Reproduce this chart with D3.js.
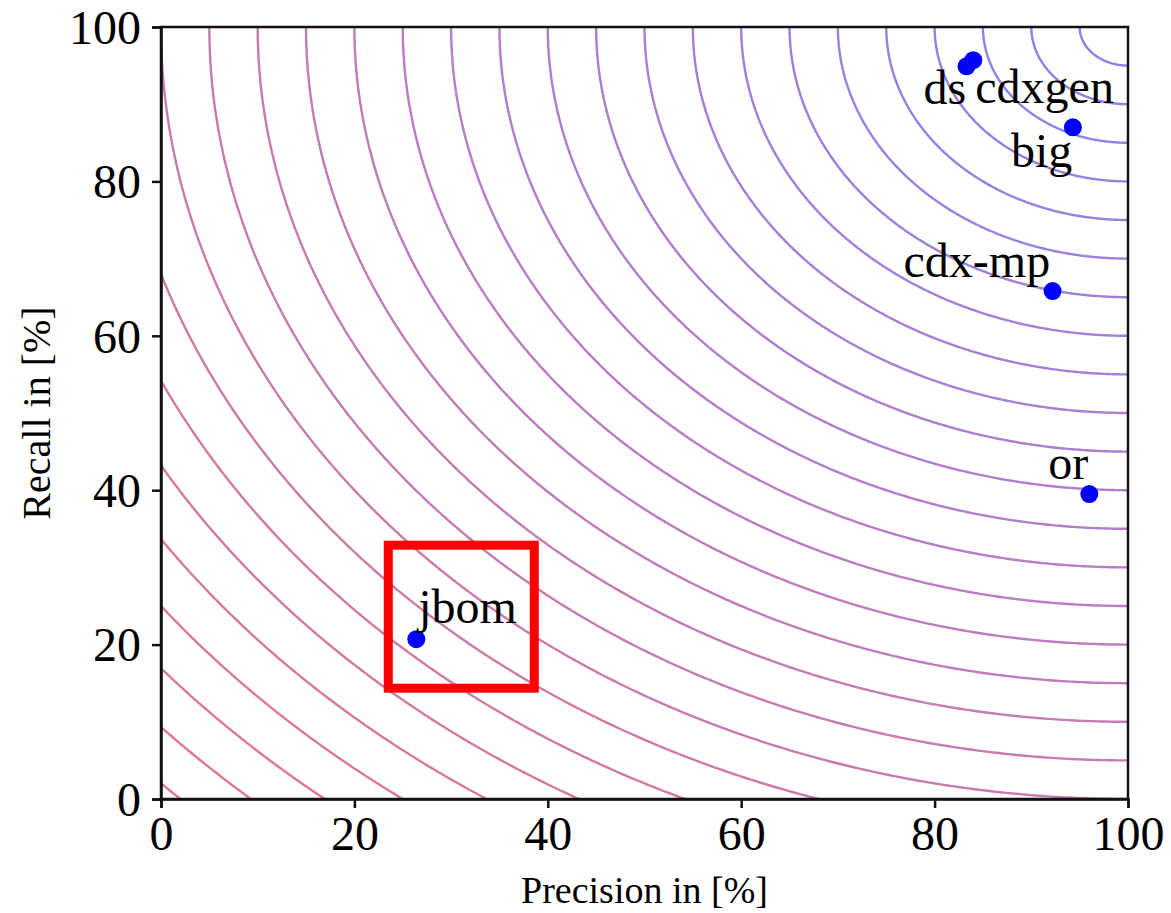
<!DOCTYPE html>
<html>
<head>
<meta charset="utf-8">
<script src="https://cdn.jsdelivr.net/npm/d3@7"></script>
<style>
  html, body { margin: 0; padding: 0; background: #fff; }
  svg { display: block; }
  text { font-family: "Liberation Serif", "Times New Roman", serif; fill: #000; }
</style>
</head>
<body>
<svg id="chart" width="1171" height="913"></svg>
<script>
// ---- data ----
const tools = ["ds", "cdxgen", "big", "cdx-mp", "or", "jbom"];
const precision = [83.3, 84.0, 94.3, 92.2, 96.0, 26.4];
const recall = [94.9, 95.7, 87.0, 65.8, 39.5, 20.7];
const xTicks = [0, 20, 40, 60, 80, 100];
const yTicks = [0, 20, 40, 60, 80, 100];
const contourLevels = [5, 10, 15, 20, 25, 30, 35, 40, 45, 50, 55, 60, 65, 70,
  75, 80, 85, 90, 95, 100, 105, 110, 115, 120, 125, 130, 135, 140];
const highlightedTool = "jbom";

(function () {
// ---- layout ----
const svg = d3.select("#chart");
const pL = 161, pR = 1128, pT = 27, pB = 799;
const x = d3.scaleLinear().domain([0, 100]).range([pL, pR]);
const y = d3.scaleLinear().domain([0, 100]).range([pB, pT]);

const labelOffset = {
  "ds": [-43, 38], "cdxgen": [2, 43], "big": [-62, 40],
  "cdx-mp": [-149, -14], "or": [-41, -15], "jbom": [2, -16]
};

svg.append("defs").append("clipPath").attr("id", "plotclip")
  .append("rect").attr("x", pL).attr("y", pT)
  .attr("width", pR - pL).attr("height", pB - pT);

// contour circles centred on (100,100)
const color = d3.scaleLinear()
  .domain([5, 70, 140])
  .range(["#8a82ea", "#b87cc8", "#e4788a"])
  .interpolate(d3.interpolateRgb);

const line = d3.line().x(d => x(d[0])).y(d => y(d[1]));
const cg = svg.append("g").attr("clip-path", "url(#plotclip)");
contourLevels.forEach(r => {
  const pts = d3.range(0, 90.25, 0.25).map(a => {
    const t = (180 + a) * Math.PI / 180;
    return [100 + r * Math.cos(t), 100 + r * Math.sin(t)];
  });
  cg.append("path").attr("d", line(pts))
    .attr("fill", "none").attr("stroke", color(r))
    .attr("stroke-width", 2.4);
});

// frame
svg.append("rect").attr("x", pL).attr("y", pT)
  .attr("width", pR - pL).attr("height", pB - pT)
  .attr("fill", "none").attr("stroke", "#111").attr("stroke-width", 2.5);

// axes
const xAxis = d3.axisBottom(x).tickValues(xTicks).tickSize(9).tickPadding(8);
const yAxis = d3.axisLeft(y).tickValues(yTicks).tickSize(9).tickPadding(8);
const gx = svg.append("g").attr("transform", `translate(0,${pB})`).call(xAxis);
const gy = svg.append("g").attr("transform", `translate(${pL},0)`).call(yAxis);
[gx, gy].forEach(g => {
  g.select(".domain").attr("stroke", "#111").attr("stroke-width", 2.5);
  g.selectAll(".tick line").attr("stroke", "#111").attr("stroke-width", 2.5);
  g.selectAll(".tick text").attr("font-family", "Liberation Serif, serif")
    .attr("font-size", 48).attr("fill", "#000");
});
gx.selectAll(".tick text").attr("dy", "0.70em");
gy.selectAll(".tick text").attr("dy", "0.34em").attr("x", -20);

// axis labels
svg.append("text").attr("x", (pL + pR) / 2).attr("y", 903)
  .attr("text-anchor", "middle").attr("font-size", 38).text("Precision in [%]");
svg.append("text")
  .attr("transform", `translate(50,${(pT + pB) / 2}) rotate(-90)`)
  .attr("text-anchor", "middle").attr("font-size", 40).text("Recall in [%]");

// points
const pts = tools.map((t, i) => ({ name: t, p: precision[i], r: recall[i] }));
svg.append("g").selectAll("circle").data(pts).join("circle")
  .attr("cx", d => x(d.p)).attr("cy", d => y(d.r)).attr("r", 9)
  .attr("fill", "#0000ff");

svg.append("g").selectAll("text").data(pts).join("text")
  .attr("x", d => x(d.p) + labelOffset[d.name][0])
  .attr("y", d => y(d.r) + labelOffset[d.name][1])
  .attr("font-size", 48).text(d => d.name);

// highlight box around jbom
const hp = pts.find(d => d.name === highlightedTool);
const bx0 = x(hp.p) - 28, bx1 = x(hp.p) + 118, by0 = y(hp.r) - 94, by1 = y(hp.r) + 49;
svg.append("rect").attr("x", bx0).attr("y", by0)
  .attr("width", bx1 - bx0).attr("height", by1 - by0)
  .attr("fill", "none").attr("stroke", "#ff0000").attr("stroke-width", 9);
})();
</script>
</body>
</html>
